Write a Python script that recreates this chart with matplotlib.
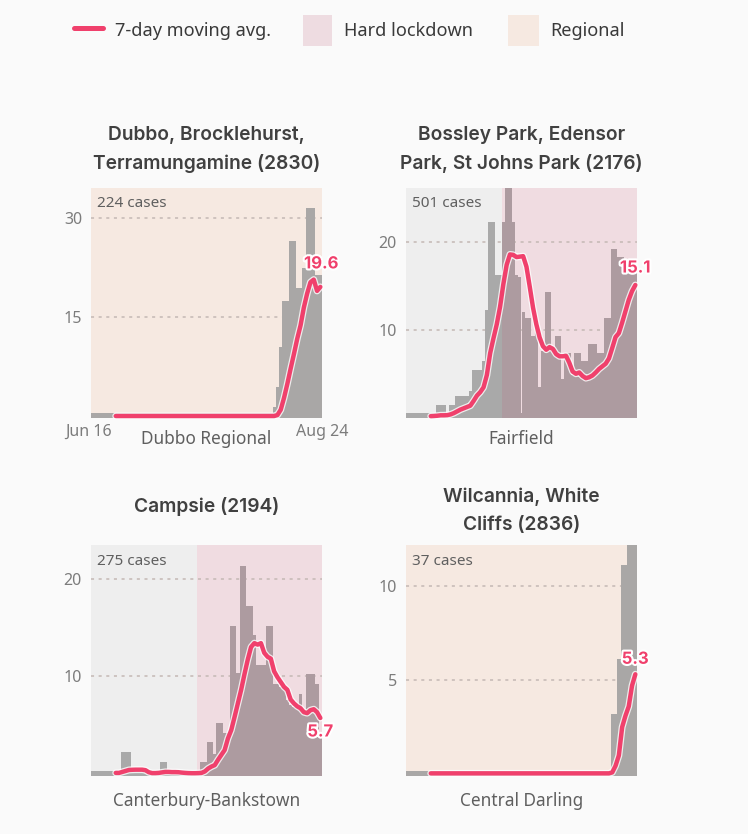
import matplotlib
matplotlib.use("Agg")
import matplotlib.pyplot as plt
import matplotlib.patheffects as pe
from matplotlib.patches import Rectangle
from matplotlib.lines import Line2D
import numpy as np

W, H = 748, 834
FONT = "Noto Sans"
BOLD = "Inter"
plt.rcParams["font.family"] = [FONT, "DejaVu Sans"]

titles = ["Dubbo, Brocklehurst,\nTerramungamine (2830)", "Bossley Park, Edensor\nPark, St Johns Park (2176)",
          "Campsie (2194)", "Wilcannia, White\nCliffs (2836)"]
regions = ["Dubbo Regional", "Fairfield", "Canterbury-Bankstown", "Central Darling"]
cases = ["224 cases", "501 cases", "275 cases", "37 cases"]
last_labels = ["19.6", "15.1", "5.7", "5.3"]
ticks = [[15, 30], [10, 20], [10, 20], [5, 10]]
ylims = [(-0.15, 34.5), (-0.11, 26.2), (-0.27, 23.5), (-0.09, 12.15)]
lockdown_start = [None, 29, 32, None]

bars_dubbo = [0]*55 + [1.5, 4.5, 10.5, 17.5, 17.5, 26.5, 26.5, 19.5, 19.5, 22.4, 31.5, 31.5, 31.5, 21.4, 21.4]
bars_fairfield = [0]*9 + [1.4, 1.4, 1.4, 0, 1.4, 1.4, 2.4, 2.4, 2.4, 2.4, 3.0, 5.4, 5.4, 5.4, 6.4, 12.3,
                  22.3, 22.3, 16.2, 16.2, 22.3, 30, 30, 22.3, 16.2, 16, 12, 11.3, 11.3, 9.3, 10.3, 3.4, 7.5,
                  14.3, 14.3, 7.5, 9.3, 9.3, 4.4, 7.3, 7.3, 4.8, 7.3, 7.3, 6.4, 6.4, 8.3, 8.3, 8.3, 7.3, 7.3,
                  11.3, 11.3, 19.2, 19.2, 18.3, 18.3, 17, 17, 17, 17]
bars_campsie = [0]*9 + [2.2, 2.2, 2.2] + [0]*8 + [0, 1.2, 1.2] + [0]*10 + [1.2, 1.2, 3.2, 3.2, 2.0, 5.2, 5.2, 4.2, 4.2,
                15.2, 15.2, 10.3, 21.3, 21.3, 17.25, 17.25, 14.2, 11.2, 11.2, 11.2, 15.2, 15.2, 9.2, 9.2, 8.9, 8.9,
                7.5, 7.0, 6.8, 7.0, 8.2, 6.5, 10.2, 10.2, 10.2, 9.2, 3.7]
bars_wilcannia = [0]*62 + [3.2, 3.2, 6.1, 11.1, 11.1, 12.5, 12.5, 12.5]

line_dubbo = [0.15]*48 + [0.15, 0.3, 1.1, 2.9, 5.0, 7.3, 9.5, 11.8, 13.8, 16.5, 18.6, 20.3, 20.7, 19.0, 19.6]
line_fairfield = [.1, .12, .15, .2, .2, .22, .3, .45, .65, .85, 1.0, 1.15, 1.3, 1.85, 2.45, 2.85, 3.4, 4.8, 7.3, 9.0,
                  10.6, 12.6, 15.2, 17.4, 18.6, 18.55, 18.3, 18.35, 18.4, 17.2, 14.9, 12.5, 10.6, 9.1, 8.1, 7.7, 8.0,
                  7.8, 7.2, 6.95, 6.95, 7.0, 6.2, 5.2, 4.95, 5.1, 4.7, 4.45, 4.55, 4.75, 5.1, 5.5, 5.8, 6.1, 6.7, 7.9,
                  9.15, 9.6, 10.8, 12.1, 13.4, 14.4, 15.1]
line_campsie = [.05, .05, .15, .25, .35, .37, .38, .38, .38, .33, .12, .03, .03, .05, .1, .15, .15, .13, .13, .12, .08,
                .05, .03, .02, .02, .03, .05, .2, .5, .7, .85, 1.4, 1.9, 2.4, 3.6, 4.45, 5.8, 7.2, 8.6, 10.2, 11.7,
                13.0, 13.4, 13.25, 13.4, 12.4, 12.0, 11.8, 10.5, 9.9, 9.4, 8.9, 8.6, 7.6, 7.2, 6.9, 6.7, 6.3, 6.2,
                6.5, 6.6, 6.3, 5.7]
line_wilcannia = [0.05]*55 + [0.1, 0.45, 1.0, 2.5, 3.1, 3.6, 4.7, 5.3]

bars_all = [bars_dubbo, bars_fairfield, bars_campsie, bars_wilcannia]
lines_all = [line_dubbo, line_fairfield, line_campsie, line_wilcannia]

BG = "#fafafa"
GREY_PANEL = "#eeeeee"
PINK = "#f0dce1"
PEACH = "#f6e9e1"
BAR = "#a9a9a9"
BAR_PINK = "#ad9ba0"
BAR_PEACH = "#a9a7a6"
LINE = "#f0406c"
TICK = "#7c7c7c"
TXT = "#5f5f5f"

fig = plt.figure(figsize=(W/100, H/100), dpi=100, facecolor=BG)

def px_axes(x0, y0, x1, y1):
    return fig.add_axes([x0/W, 1-y1/H, (x1-x0)/W, (y1-y0)/H])

def ftext(x, y, s, **kw):
    return fig.text(x/W, 1-y/H, s, **kw)

boxes = [(91, 188, 322, 418), (406, 188, 637, 418), (91, 545, 322, 776), (406, 545, 637, 776)]
title_y = [149.5, 149.5, 506, 511]
label_off = [(1, 23), (0, 17), (0, -14), (0, 15)]
xlabel_y = [439, 439, 801, 801]

for i, box in enumerate(boxes):
    ax = px_axes(*box)
    ax.set_xlim(0, 70)
    ax.set_ylim(*ylims[i])
    start = lockdown_start[i]
    if start is None:
        ax.set_facecolor(PEACH)
        colors = [BAR_PEACH]*70
    else:
        ax.set_facecolor(GREY_PANEL)
        ax.axvspan(start, 70, color=PINK, lw=0, zorder=0.5)
        colors = [BAR if d < start else BAR_PINK for d in range(70)]
    for t in ticks[i]:
        ax.axhline(t, color="#c4b8b4", lw=1.1, ls=(0, (2, 3)), zorder=1)
    ax.bar(np.arange(70), bars_all[i], width=1.0, align="edge", color=colors, lw=0, zorder=2)
    # thin grey strip along the foot of each panel
    for x0, x1, col in ([(0, 70, BAR_PEACH)] if start is None else [(0, start, BAR), (start, 70, BAR_PINK)]):
        ax.add_patch(Rectangle((x0/70, 0), (x1-x0)/70, 0.02, transform=ax.transAxes, color=col, lw=0, zorder=2))
    y = np.array(lines_all[i])
    x = np.arange(70-len(y), 70) + 0.5
    halo = [pe.Stroke(linewidth=5.0, foreground="white", alpha=0.8), pe.Normal()]
    ax.plot(x, y, color=LINE, lw=3.2, solid_capstyle="round", solid_joinstyle="round",
            zorder=4, path_effects=halo, clip_on=False)
    ax.set_xticks([])
    ax.set_yticks(ticks[i])
    ax.set_yticklabels([str(t) for t in ticks[i]], color=TICK, fontsize=11.5)
    ax.tick_params(axis="y", length=0, pad=6.5)
    for s in ax.spines.values():
        s.set_visible(False)
    ax.text(6/231, 1-16/230, cases[i], transform=ax.transAxes, ha="left", va="center",
            color=TXT, fontsize=11, zorder=5)
    ax.annotate(last_labels[i], xy=(x[-1], y[-1]), xytext=label_off[i], textcoords="offset pixels",
                ha="center", va="center", color=LINE, fontsize=12, fontweight="bold", family=BOLD, zorder=6,
                annotation_clip=False,
                path_effects=[pe.withStroke(linewidth=3, foreground="white")])
    cx = (box[0]+box[2])/2
    ftext(cx, title_y[i], titles[i], ha="center", va="center", color="#404040", fontsize=13.8,
          fontweight="semibold", family=BOLD, linespacing=1.68)
    ftext(cx, xlabel_y[i], regions[i], ha="center", va="center", color=TXT, fontsize=12.4)

ftext(89, 432, "Jun 16", ha="center", va="center", color=TICK, fontsize=11.5)
ftext(322, 432, "Aug 24", ha="center", va="center", color=TICK, fontsize=11.5)

# legend
fig.add_artist(Line2D([74/W, 103/W], [1-28/H, 1-28/H], color=LINE, lw=3.6, solid_capstyle="round"))
ftext(115, 36, "7-day moving avg.", ha="left", va="baseline", color="#3a3a3a", fontsize=13.1)
fig.add_artist(Rectangle((303/W, 1-46/H), 29/W, 31/H, transform=fig.transFigure, color="#eedce1", lw=0))
ftext(344, 36, "Hard lockdown", ha="left", va="baseline", color="#3a3a3a", fontsize=13.1)
fig.add_artist(Rectangle((508/W, 1-46/H), 31/W, 31/H, transform=fig.transFigure, color="#f6e9e1", lw=0))
ftext(550, 36, "Regional", ha="left", va="baseline", color="#3a3a3a", fontsize=13.1)

fig.savefig("out.png", dpi=100, facecolor=BG)
